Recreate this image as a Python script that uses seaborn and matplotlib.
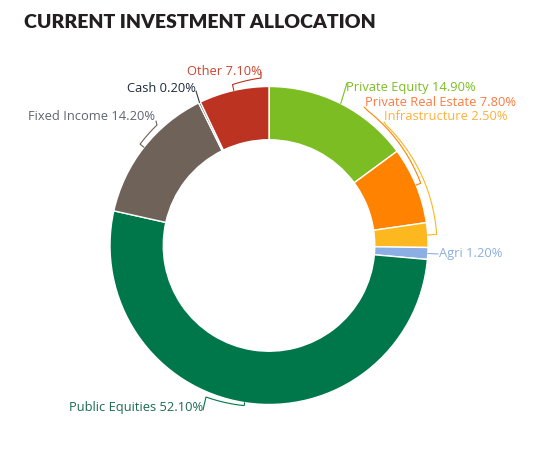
import numpy as np
import matplotlib
matplotlib.use("Agg")
import matplotlib.pyplot as plt
import seaborn as sns

# allocation data, clockwise from 12 o'clock
categories = ["Private Equity", "Private Real Estate", "Infrastructure", "Agri",
              "Public Equities", "Fixed Income", "Cash", "Other"]
shares = [14.90, 7.80, 2.50, 1.20, 52.10, 14.20, 0.20, 7.10]
slice_colors = ["#7BBD22", "#FF8300", "#FDB71F", "#8BAEE3",
                "#00774A", "#6E6259", "#3A3A3A", "#BC3321"]
label_colors = ["#7BBD22", "#FF7A40", "#FFB038", "#8BAEE3",
                "#1C6B52", "#5E6570", "#1E2A3A", "#C9452F"]

sns.set_theme(style="white")
plt.rcParams["font.family"] = ["Open Sans", "DejaVu Sans"]

W, H = 535, 463
CX, CY, R = 269, 245.5, 159.0


def px(x, y):
    # pixel position -> data units (pie radius = 1)
    return (x - CX) / R, (CY - y) / R


fig = plt.figure(figsize=(W / 100, H / 100), dpi=100)
ax = fig.add_axes([0, 0, 1, 1])

palette = sns.color_palette(slice_colors)
ax.pie(shares, colors=palette, startangle=90, counterclock=False, radius=1,
       wedgeprops=dict(width=0.335, edgecolor="white", linewidth=1.0))
# pie resets the limits, so set them afterwards
ax.set_xlim(-CX / R, (W - CX) / R)
ax.set_ylim(-(H - CY) / R, CY / R)
ax.set_aspect("auto")
ax.axis("off")

# mid angle of every slice (math convention, radians)
cum = np.cumsum([0] + shares[:-1])
mids = np.deg2rad(90 - 3.6 * (cum + np.array(shares) / 2))

# label layout: text anchor in px, alignment, connector (elbow px, end radius px)
layout = {
    "Private Equity":      dict(pos=(346, 87), ha="left", anchor=(347, 83), elbow=None, rend=None),
    "Private Real Estate": dict(pos=(365, 102), ha="left", anchor=(364, 107), elbow=(368, 111), rend=164),
    "Infrastructure":      dict(pos=(384, 117), ha="left", anchor=(384, 122), elbow=(386, 125), rend=168),
    "Agri":                dict(pos=(439, 253), ha="left", anchor=(438, 254), elbow=None, rend=None),
    "Public Equities":     dict(pos=(203, 408), ha="right", anchor=(203, 410), elbow=(206, 397), rend=162),
    "Fixed Income":        dict(pos=(155, 117), ha="right", anchor=(156, 121), elbow=(157, 125), rend=164),
    "Cash":                dict(pos=(196, 89), ha="right", anchor=(196, 91), elbow=None, rend=None),
    "Other":               dict(pos=(262, 72), ha="right", anchor=(261, 72), elbow=(261, 78), rend=165),
}

for name, val, col, lcol, mid in zip(categories, shares, slice_colors, label_colors, mids):
    spec = layout[name]
    tx, ty = px(*spec["pos"])
    ax.text(tx, ty, f"{name} {val:.2f}%", ha=spec["ha"], va="center",
            fontsize=9.3, color=lcol)
    ax_, ay_ = px(*spec["anchor"])
    edge = (np.cos(mid), np.sin(mid))
    if spec["elbow"] is None:
        xs, ys = [ax_, edge[0]], [ay_, edge[1]]
    else:
        ex, ey = px(*spec["elbow"])
        r0 = np.hypot(ex, ey)
        a0 = np.arctan2(ey, ex)
        r1 = spec["rend"] / R
        # unwrap so the arc takes the short way round
        a1 = a0 + (mid - a0 + np.pi) % (2 * np.pi) - np.pi
        t = np.linspace(0, 1, 40)
        rr = r0 + (r1 - r0) * t
        aa = a0 + (a1 - a0) * t
        xs = [ax_] + list(rr * np.cos(aa)) + [edge[0]]
        ys = [ay_] + list(rr * np.sin(aa)) + [edge[1]]
    ax.plot(xs, ys, color=col, lw=0.8, solid_joinstyle="miter")

fig.text(24 / W, 1 - 22 / H, "CURRENT INVESTMENT ALLOCATION", ha="left", va="center",
         fontsize=14, fontweight="heavy", color="#231F20", family=["Lato", "DejaVu Sans"])

fig.savefig("out.png", dpi=100)
